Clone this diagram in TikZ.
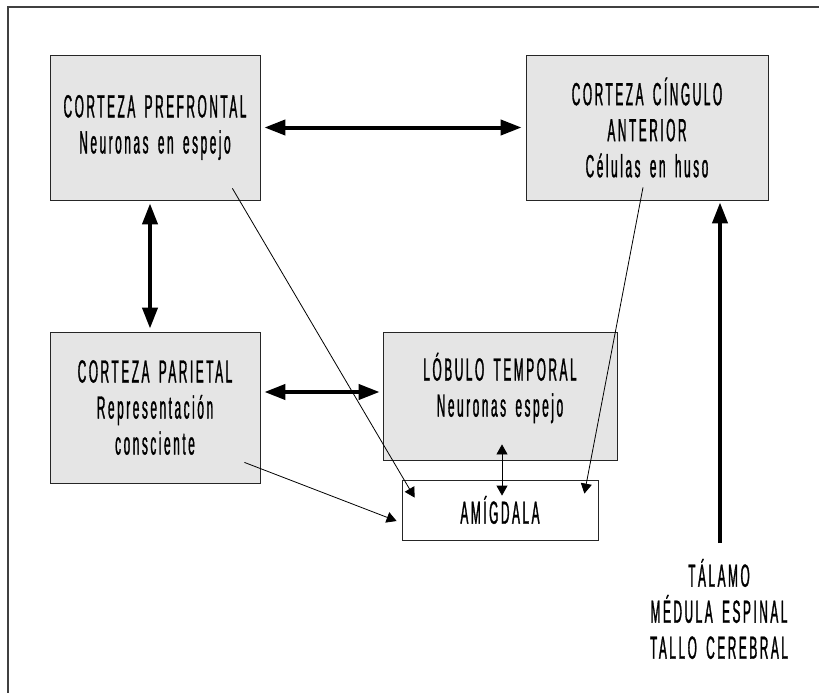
\documentclass[tikz,border=0pt]{standalone}
\usepackage{fontspec}
\setmainfont{Liberation Sans}[FakeStretch=0.37,LetterSpace=8,WordSpace=1.6,FakeBold=1]
\usetikzlibrary{arrows.meta}

\begin{document}
\begin{tikzpicture}[x=1pt, y=-1pt,
every node/.style={font=\fontsize{32}{36}\selectfont, align=center},
box/.style={draw=black!85, fill=black!10, line width=0.8pt, inner sep=0pt},
fat/.style={line width=4pt, {Triangle[length=21pt,width=15pt]}-{Triangle[length=21pt,width=15pt]}},
fatup/.style={line width=4pt, -{Triangle[length=21pt,width=15pt]}},
slim/.style={line width=0.8pt, -{Triangle[length=10pt,width=11pt]}}]
\useasboundingbox (0,0) rectangle (819,693);
\draw[line width=1.5pt, black!75] (8,693) -- (8,7) -- (819,7);

\node[box, minimum width=210pt, minimum height=145pt] (pre) at (155,127.5)
  {CORTEZA PREFRONTAL\\Neuronas en espejo};
\node[box, minimum width=242pt, minimum height=145pt] (cing) at (647,127.5)
  {CORTEZA CÍNGULO\\ANTERIOR\\Células en huso};
\node[box, minimum width=210pt, minimum height=151pt] (par) at (155,407.5)
  {CORTEZA PARIETAL\\Representación\\consciente};
\node[box, minimum width=234pt, minimum height=128pt,
  label={[yshift=8pt]center:LÓBULO TEMPORAL\\Neuronas espejo}] (temp) at (500,396) {};
\node[draw=black!85, line width=0.8pt, minimum width=196pt, minimum height=60pt] (amig) at (500,510) {AMÍGDALA};
\node (tal) at (719,609) {TÁLAMO\\MÉDULA ESPINAL\\TALLO CEREBRAL};
\coordinate (base) at (720,543);

\draw[fat, shorten <=4pt, shorten >=4pt] (pre) -- (cing);
\draw[fat, shorten <=3pt, shorten >=3pt] ([xshift=-5pt]pre.south) -- ([xshift=-5pt]par.north);
\draw[fat, shorten <=4pt, shorten >=3pt] ([yshift=15.5pt]par.east) -- ([yshift=15.5pt]par.east -| temp.west);
\draw[fatup, shorten >=2pt] (base) -- (base |- cing.south);
\draw[line width=0.8pt, {Triangle[length=10pt,width=11pt]}-{Triangle[length=10pt,width=11pt]}]
  ([xshift=2pt,yshift=16pt]temp.south) -- ([xshift=2pt,yshift=-16pt]amig.north);
\draw[slim] ([shift={(-28pt,12pt)}]pre.south east) -- ([shift={(13pt,-18pt)}]amig.north west);
\draw[slim] ([shift={(-4pt,13pt)}]cing.south) -- ([shift={(-14pt,-14pt)}]amig.north east);
\draw[slim] ([shift={(-16pt,21pt)}]par.south east) -- ([shift={(-5pt,-11pt)}]amig.west);
\end{tikzpicture}
\end{document}
